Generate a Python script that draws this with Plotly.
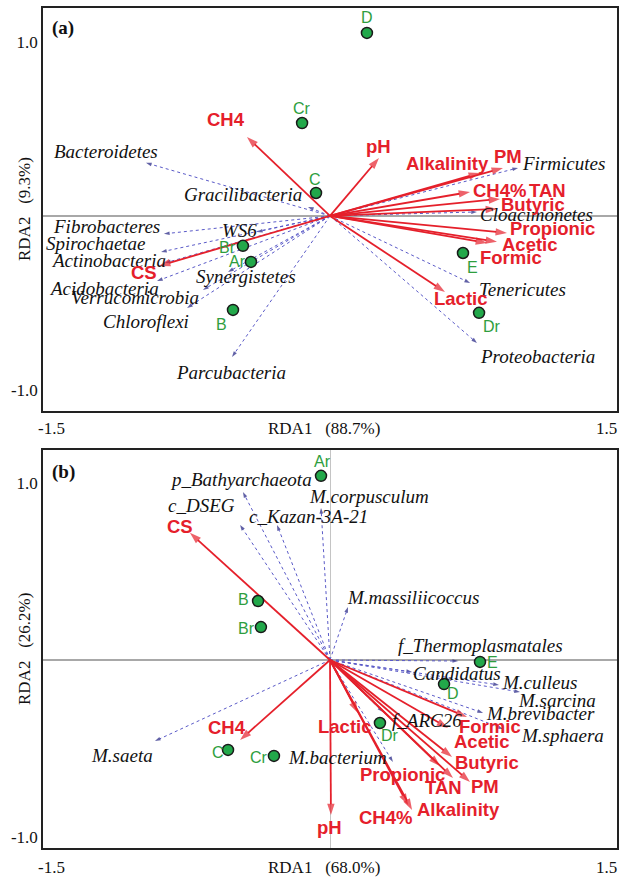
import plotly.graph_objects as go

# ---------------- Panel (a): bacterial phyla ----------------
a_samples = ["D", "Cr", "C", "Br", "Ar", "B", "E", "Dr"]
a_sample_x = [0.193, -0.146, -0.073, -0.455, -0.413, -0.507, 0.695, 0.779]
a_sample_y = [1.052, 0.534, 0.132, -0.172, -0.264, -0.540, -0.213, -0.557]

a_env = ["CH4", "pH", "Alkalinity", "PM", "CH4%", "TAN", "Butyric",
         "Propionic", "Acetic", "Formic", "Lactic", "CS"]
a_env_x = [-0.434, 0.256, 0.784, 0.904, 0.732, 0.889, 0.873, 0.925, 0.873, 0.821, 0.601, -0.894]
a_env_y = [0.454, 0.333, 0.247, 0.276, 0.138, 0.098, 0.040, -0.098, -0.149, -0.155, -0.437, -0.287]

a_taxa = ["Bacteroidetes", "Gracilibacteria", "Fibrobacteres", "WS6", "Spirochaetae",
          "Actinobacteria", "Acidobacteria", "Synergistetes", "Verrucomicrobia",
          "Chloroflexi", "Parcubacteria", "Firmicutes", "Cloacimonetes",
          "Tenericutes", "Proteobacteria"]
a_taxa_x = [-0.962, -0.115, -0.868, -0.382, -0.883, -0.862, -0.904, -0.533, -0.664,
            -0.747, -0.512, 0.983, 0.768, 0.732, 0.768]
a_taxa_y = [0.305, 0.052, -0.103, -0.092, -0.207, -0.270, -0.374, -0.322, -0.425,
            -0.529, -0.810, 0.276, 0.023, -0.385, -0.730]

# ---------------- Panel (b): archaeal taxa ----------------
b_samples = ["Ar", "B", "Br", "C", "Cr", "E", "D", "Dr"]
b_sample_x = [-0.047, -0.376, -0.361, -0.533, -0.293, 0.784, 0.596, 0.261]
b_sample_y = [1.040, 0.333, 0.186, -0.508, -0.542, -0.011, -0.136, -0.356]

b_env = ["CS", "CH4", "pH", "Lactic", "Formic", "Acetic", "Butyric",
         "Propionic", "TAN", "PM", "CH4%", "Alkalinity"]
b_env_x = [-0.732, -0.470, 0.005, 0.146, 0.716, 0.617, 0.638, 0.575, 0.643, 0.732, 0.408, 0.429]
b_env_y = [0.718, -0.452, -0.876, -0.299, -0.322, -0.384, -0.548, -0.599, -0.667, -0.689, -0.819, -0.847]

b_taxa = ["p_Bathyarchaeota", "c_DSEG", "c_Kazan-3A-21", "M.corpusculum",
          "M.massiliicoccus", "f_Thermoplasmatales", "Candidatus", "M.culleus",
          "M.sarcina", "M.brevibacter", "M.sphaera", "f_ARC26", "M.bacterium", "M.saeta"]
b_taxa_x = [-0.455, -0.470, -0.277, -0.047, 0.094, 0.670, 0.429, 0.883, 0.993, 0.800,
            0.904, 0.277, 0.329, -0.915]
b_taxa_y = [0.949, 0.763, 0.763, 0.859, 0.299, -0.006, -0.068, -0.141, -0.181, -0.299,
            -0.390, -0.294, -0.576, -0.458]

# label placement (pixel offsets from the point / arrow tip: dx right, dy down)
a_sample_off = {"D": (0, -15), "Cr": (0, -15), "C": (-1, -13), "Br": (-15, 2),
                "Ar": (-13, 0), "B": (-11, 15), "E": (10, 14), "Dr": (13, 14)}
a_env_off = {"CH4": (-21, -17), "pH": (0, -11), "Alkalinity": (-33, -9), "PM": (5, -11),
             "CH4%": (29, -1), "TAN": (47, -8), "Butyric": (36, -4), "Propionic": (46, -4),
             "Acetic": (33, 3), "Formic": (24, 15), "Lactic": (16, 7), "CS": (-15, 7)}
a_taxa_off = {"Bacteroidetes": (-40, -11), "Gracilibacteria": (-65, -12),
              "Fibrobacteres": (-57, -7), "WS6": (-17, -1), "Spirochaetae": (-65, -8),
              "Actinobacteria": (-57, -2), "Acidobacteria": (-53, 7),
              "Synergistetes": (18, 5), "Verrucomicrobia": (-68, 8),
              "Chloroflexi": (-41, 14), "Parcubacteria": (-1, 16), "Firmicutes": (45, -4),
              "Cloacimonetes": (60, 3), "Tenericutes": (52, 7), "Proteobacteria": (61, 14)}

b_sample_off = {"Ar": (1, -14), "B": (-15, -2), "Br": (-14, 1), "C": (-10, 3),
                "Cr": (-15, 2), "E": (12, 1), "D": (9, 9), "Dr": (10, 12)}
b_env_off = {"CS": (-10, -6), "CH4": (-13, -13), "pH": (-1, 12), "Lactic": (-13, 14),
             "Formic": (23, 10), "Acetic": (34, 14), "Butyric": (35, 5),
             "Propionic": (-38, 8), "TAN": (-10, 9), "PM": (15, 5), "CH4%": (-23, 13),
             "Alkalinity": (46, 0)}
b_taxa_off = {"p_Bathyarchaeota": (-2, -12), "c_DSEG": (-39, -19),
              "c_Kazan-3A-21": (31, -8), "M.corpusculum": (48, -11),
              "M.massiliicoccus": (65, -10), "f_Thermoplasmatales": (22, -16),
              "Candidatus": (45, 1), "M.culleus": (41, -2), "M.sarcina": (37, 8),
              "M.brevibacter": (57, 1), "M.sphaera": (60, 6), "f_ARC26": (44, 8),
              "M.bacterium": (-55, -4), "M.saeta": (-33, 14)}

RED = "#e5202b"
BLUE_LINE = "#5a5ac8"
BLUE_HEAD = "#1e1e80"
GREEN = "#22a84a"
GREEN_TXT = "#2e9e3e"
SANS = "Liberation Sans, Arial, sans-serif"
SERIF = "Liberation Serif, Times New Roman, serif"
GAP = "&nbsp;&nbsp;&nbsp;"

fig = go.Figure()
annotations = []


def add_panel(xa, ya, samples, sx, sy, env, ex, ey, taxa, tx, ty,
              s_off, e_off, t_off):
    # species vectors: dotted lines with small arrowheads
    for name, x, y in zip(taxa, tx, ty):
        fig.add_trace(go.Scatter(
            x=[0, x], y=[0, y], xaxis=xa, yaxis=ya, mode="lines+markers",
            line=dict(color=BLUE_LINE, width=1, dash="dot"),
            marker=dict(symbol="arrow", size=[0, 6], angleref="previous",
                        color=BLUE_HEAD, line=dict(width=0)),
            hoverinfo="skip", showlegend=False))
    # environmental vectors: solid red arrows
    for name, x, y in zip(env, ex, ey):
        fig.add_trace(go.Scatter(
            x=[0, x], y=[0, y], xaxis=xa, yaxis=ya, mode="lines+markers",
            line=dict(color=RED, width=1.8),
            marker=dict(symbol="arrow", size=[0, 12], angleref="previous",
                        color=RED, line=dict(width=0)),
            hoverinfo="skip", showlegend=False))
    # sample scores
    fig.add_trace(go.Scatter(
        x=sx, y=sy, xaxis=xa, yaxis=ya, mode="markers",
        marker=dict(size=11, color=GREEN, line=dict(color="#1a1a1a", width=1.5)),
        hoverinfo="skip", showlegend=False))

    for name, x, y in zip(taxa, tx, ty):
        dx, dy = t_off[name]
        annotations.append(dict(
            x=x, y=y, xref=xa, yref=ya, text="<i>%s</i>" % name, showarrow=False,
            xanchor="center", yanchor="middle",
            xshift=dx, yshift=-dy, font=dict(family=SERIF, size=19, color="#111111")))
    for name, x, y in zip(env, ex, ey):
        dx, dy = e_off[name]
        annotations.append(dict(
            x=x, y=y, xref=xa, yref=ya, text="<b>%s</b>" % name, showarrow=False,
            xanchor="center", yanchor="middle",
            xshift=dx, yshift=-dy, font=dict(family=SANS, size=18.5, color=RED)))
    for name, x, y in zip(samples, sx, sy):
        dx, dy = s_off[name]
        annotations.append(dict(
            x=x, y=y, xref=xa, yref=ya, text=name, showarrow=False,
            xanchor="center", yanchor="middle",
            xshift=dx, yshift=-dy, font=dict(family=SANS, size=16, color=GREEN_TXT)))


add_panel("x", "y", a_samples, a_sample_x, a_sample_y, a_env, a_env_x, a_env_y,
          a_taxa, a_taxa_x, a_taxa_y, a_sample_off, a_env_off, a_taxa_off)
add_panel("x2", "y2", b_samples, b_sample_x, b_sample_y, b_env, b_env_x, b_env_y,
          b_taxa, b_taxa_x, b_taxa_y, b_sample_off, b_env_off, b_taxa_off)

W, H = 619, 881
x_dom = [43 / W, 617 / W]
a_dom = [1 - 411 / H, 1 - 8 / H]
b_dom = [1 - 848 / H, 1 - 450 / H]

frame = dict(showline=True, mirror=True, linecolor="#222222", linewidth=1.5,
             showgrid=False, ticks="", fixedrange=True)
tickfont = dict(family=SERIF, size=17, color="#111111")

xaxis = dict(frame, domain=x_dom, range=[-1.5, 1.5], anchor="y",
             showticklabels=False, zeroline=False)
xaxis2 = dict(frame, domain=x_dom, range=[-1.5, 1.5], anchor="y2",
              showticklabels=False, zeroline=True, zerolinecolor="#c4c4c4",
              zerolinewidth=1.2)
yaxis = dict(frame, domain=a_dom, range=[-1.121, 1.195], anchor="x",
             tickvals=[-1, 1], ticktext=["-1.0", "1.0"], tickfont=tickfont,
             zeroline=True, zerolinecolor="#a8a8a8", zerolinewidth=1.5)
yaxis2 = dict(frame, domain=b_dom, range=[-1.062, 1.186], anchor="x2",
              tickvals=[-1, 1], ticktext=["-1.0", "1.0"], tickfont=tickfont,
              zeroline=True, zerolinecolor="#a8a8a8", zerolinewidth=1.5)


def paper_text(px, py, text, font, angle=0, xanchor="center"):
    annotations.append(dict(x=px / W, y=1 - py / H, xref="paper", yref="paper",
                            text=text, showarrow=False, textangle=angle,
                            xanchor=xanchor, yanchor="middle", font=font))


# panel tags, axis titles and the corner limits of RDA1
for tag, ytop, xt, yt, ytitle, y_center in [
        ("(a)", 28, "RDA1" + GAP + "(88.7%)", 428, "RDA2" + GAP + "(9.3%)", 209),
        ("(b)", 472, "RDA1" + GAP + "(68.0%)", 867, "RDA2" + GAP + "(26.2%)", 649)]:
    paper_text(63, ytop, "<b>%s</b>" % tag, dict(family=SERIF, size=19, color="#111111"))
    paper_text(324, yt, xt, tickfont)
    paper_text(51, yt, "-1.5", tickfont)
    paper_text(619, yt, "1.5", tickfont, xanchor="right")
    paper_text(24, y_center, ytitle, tickfont, angle=-90)

fig.update_layout(
    width=W, height=H, autosize=False,
    margin=dict(l=0, r=0, t=0, b=0),
    paper_bgcolor="white", plot_bgcolor="white",
    xaxis=xaxis, yaxis=yaxis, xaxis2=xaxis2, yaxis2=yaxis2,
    annotations=annotations, showlegend=False,
)

fig.write_html("out.html")
